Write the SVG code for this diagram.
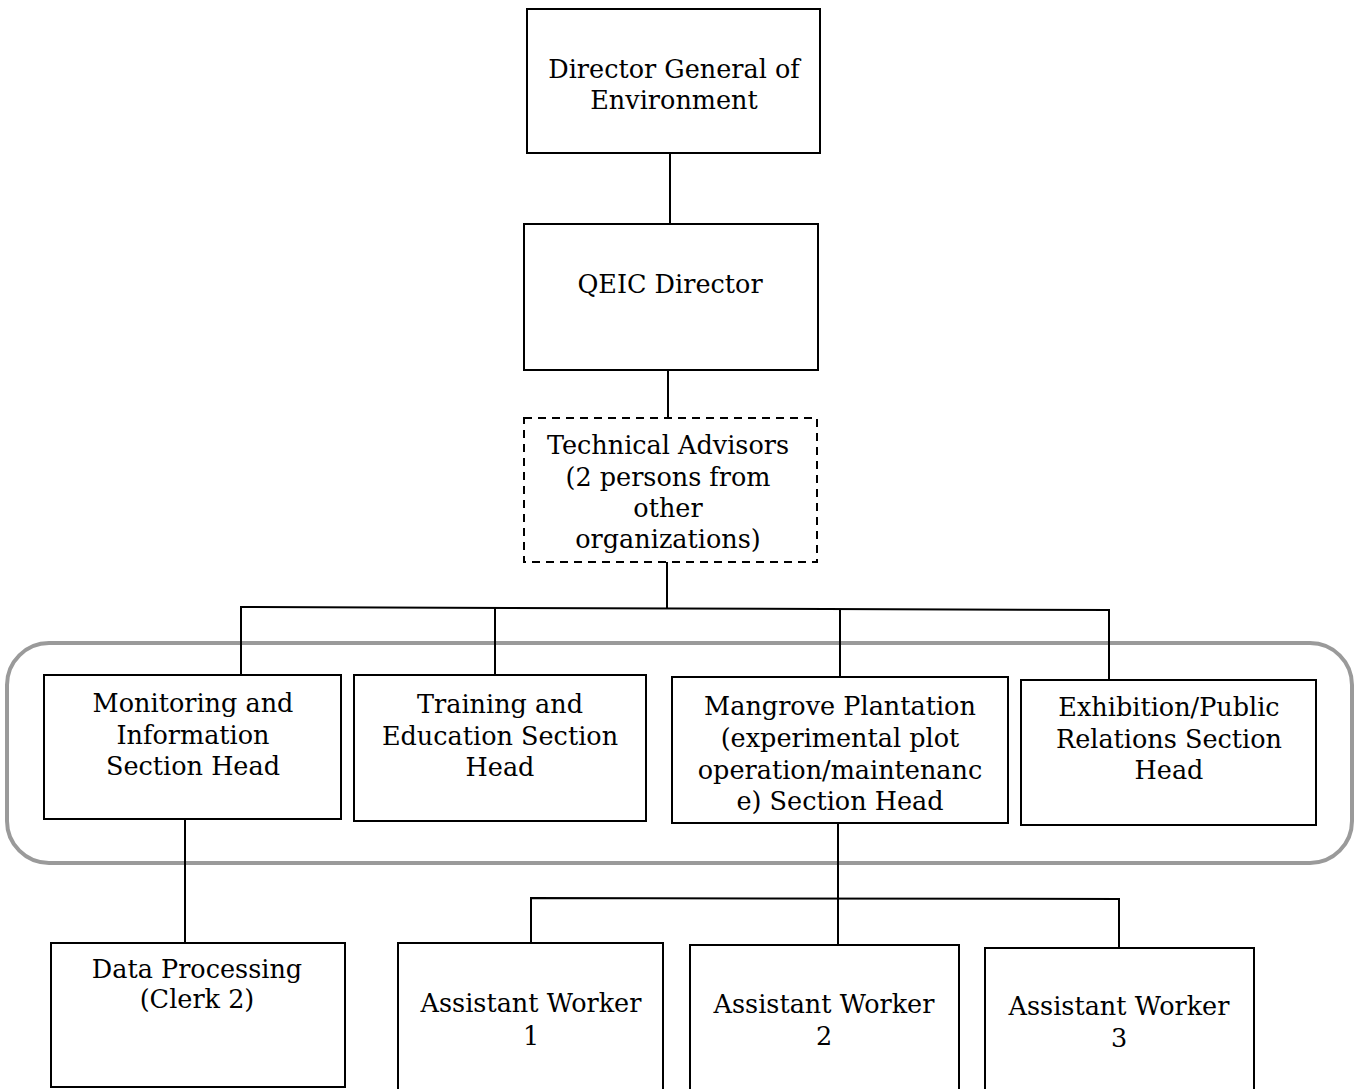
<svg xmlns="http://www.w3.org/2000/svg" width="1356" height="1089" viewBox="0 0 1356 1089">
<style>
.box{fill:#fff;stroke:#000;stroke-width:2}
.dash{fill:#fff;stroke:#000;stroke-width:2;stroke-dasharray:8,6}
.con{fill:none;stroke:#000;stroke-width:2}
.grp{fill:none;stroke:#9a9a9a;stroke-width:4}
text{font-family:"DejaVu Serif","Liberation Serif",serif;font-size:25.5px;fill:#000;text-anchor:middle}
</style>
<rect width="1356" height="1089" fill="#fff"/>
<rect class="grp" x="7" y="643" width="1345" height="220" rx="42" ry="42"/>
<g id="connectors">
<line class="con" x1="670" y1="153" x2="670" y2="224"/>
<line class="con" x1="668" y1="370" x2="668" y2="418"/>
<line class="con" x1="667" y1="562" x2="667" y2="608"/>
<polyline class="con" points="241,675 241,607 1109,610 1109,680"/>
<line class="con" x1="495" y1="608" x2="495" y2="675"/>
<line class="con" x1="840" y1="609" x2="840" y2="677"/>
<line class="con" x1="185" y1="819" x2="185" y2="943"/>
<line class="con" x1="838" y1="823" x2="838" y2="945"/>
<polyline class="con" points="531,943 531,898 1119,899 1119,948"/>
</g>
<g id="n-dg"><rect class="box" x="527" y="9" width="293" height="144"/><text x="674" y="78">Director General of</text><text x="674" y="109">Environment</text></g>
<g id="n-qeic"><rect class="box" x="524" y="224" width="294" height="146"/><text x="670" y="293">QEIC Director</text></g>
<g id="n-tech"><rect class="dash" x="524" y="418" width="293" height="144"/><text x="668" y="454">Technical Advisors</text><text x="668" y="486">(2 persons from</text><text x="668" y="517">other</text><text x="668" y="548">organizations)</text></g>
<g id="n-mon"><rect class="box" x="44" y="675" width="297" height="144"/><text x="193" y="712">Monitoring and</text><text x="193" y="744">Information</text><text x="193" y="775">Section Head</text></g>
<g id="n-train"><rect class="box" x="354" y="675" width="292" height="146"/><text x="500" y="713">Training and</text><text x="500" y="745">Education Section</text><text x="500" y="776">Head</text></g>
<g id="n-mang"><rect class="box" x="672" y="677" width="336" height="146"/><text x="840" y="715">Mangrove Plantation</text><text x="840" y="747">(experimental plot</text><text x="840" y="779">operation/maintenanc</text><text x="840" y="810">e) Section Head</text></g>
<g id="n-exh"><rect class="box" x="1021" y="680" width="295" height="145"/><text x="1169" y="716">Exhibition/Public</text><text x="1169" y="748">Relations Section</text><text x="1169" y="779">Head</text></g>
<g id="n-data"><rect class="box" x="51" y="943" width="294" height="144"/><text x="197" y="978">Data Processing</text><text x="197" y="1008">(Clerk 2)</text></g>
<g id="n-aw1"><rect class="box" x="398" y="943" width="265" height="150"/><text x="531" y="1012">Assistant Worker</text><text x="531" y="1045">1</text></g>
<g id="n-aw2"><rect class="box" x="690" y="945" width="269" height="150"/><text x="824" y="1013">Assistant Worker</text><text x="824" y="1045">2</text></g>
<g id="n-aw3"><rect class="box" x="985" y="948" width="269" height="150"/><text x="1119" y="1015">Assistant Worker</text><text x="1119" y="1047">3</text></g>
</svg>
